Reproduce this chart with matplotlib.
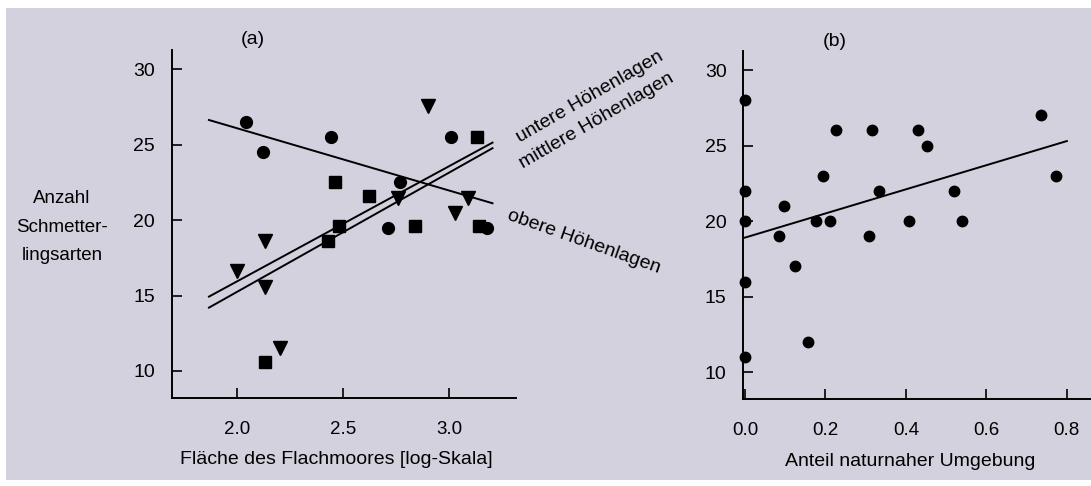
import matplotlib
matplotlib.use("Agg")
import matplotlib.pyplot as plt
from matplotlib.patches import Rectangle

plt.rcParams['font.family'] = ['Liberation Sans', 'DejaVu Sans']

# Panel (a): Flachmoor area (log) vs. butterfly species
# circles = obere, squares = mittlere, triangles = untere Hoehenlagen
circ_x = [2.04, 2.12, 2.44, 2.77, 2.71, 3.01, 3.18]
circ_y = [26.5, 24.5, 25.5, 22.5, 19.5, 25.5, 19.5]
sq_x = [2.46, 2.48, 2.43, 2.62, 2.84, 3.13, 3.14, 2.13]
sq_y = [22.5, 19.6, 18.6, 21.6, 19.6, 25.5, 19.6, 10.6]
tri_x = [2.90, 2.00, 2.13, 2.13, 2.20, 2.76, 3.03, 3.09]
tri_y = [27.6, 16.6, 18.6, 15.6, 11.5, 21.5, 20.5, 21.5]

# regression lines (end points)
fit_x = [1.866, 3.205]
fit_obere = [26.64, 21.12]
fit_untere = [14.93, 25.14]
fit_mittlere = [14.20, 24.77]

# Panel (b): share of near-natural surroundings
b_x = [0.0, 0.0, 0.0, 0.0, 0.0, 0.084, 0.096, 0.125, 0.156, 0.176, 0.193,
       0.212, 0.227, 0.308, 0.315, 0.332, 0.408, 0.431, 0.452, 0.52, 0.54,
       0.735, 0.772]
b_y = [28, 22, 20, 16, 11, 19, 21, 17, 12, 20, 23,
       20, 26, 19, 26, 22, 20, 26, 25, 22, 20,
       27, 23]
b_fit_x = [0.0, 0.80]
b_fit_y = [18.91, 25.3]

W, H = 1091, 486
fig = plt.figure(figsize=(W / 100, H / 100), dpi=100, facecolor='white')
bg = '#d2d1dd'
fig.patches.append(Rectangle((6 / W, 6 / H), (W - 6) / W, (479 - 7) / H,
                             transform=fig.transFigure, facecolor=bg,
                             edgecolor='none', zorder=-10))


def style(ax):
    ax.set_facecolor('none')
    for s in ['top', 'right']:
        ax.spines[s].set_visible(False)
    for s in ['left', 'bottom']:
        ax.spines[s].set_linewidth(1.4)
    ax.tick_params(axis='both', direction='in', length=7, width=1.2)
    ax.tick_params(axis='y', labelsize=14, pad=12)
    ax.tick_params(axis='x', labelsize=13.5, pad=16)


ax1 = fig.add_axes([171.7 / W, 87.7 / H, (516 - 171.7) / W, 348.3 / H])
style(ax1)
ax1.set_xlim(1.69, 3.316)
ax1.set_ylim(8.19, 31.28)
ax1.set_xticks([2.0, 2.5, 3.0])
ax1.set_yticks([10, 15, 20, 25, 30])
ax1.plot(fit_x, fit_obere, color='black', lw=1.4)
ax1.plot(fit_x, fit_untere, color='black', lw=1.4)
ax1.plot(fit_x, fit_mittlere, color='black', lw=1.4)
ax1.plot(circ_x, circ_y, 'o', color='black', ms=8.5, clip_on=False)
ax1.plot(sq_x, sq_y, 's', color='black', ms=8, clip_on=False)
ax1.plot(tri_x, tri_y, 'v', color='black', ms=9.5, clip_on=False)

ax2 = fig.add_axes([743.3 / W, 86.7 / H, (W - 743.3) / W, 348.6 / H])
style(ax2)
ax2.set_xlim(-0.004, 0.86)
ax2.set_ylim(8.21, 31.28)
ax2.set_xticks([0.0, 0.2, 0.4, 0.6, 0.8])
ax2.set_yticks([10, 15, 20, 25, 30])
ax2.plot(b_fit_x, b_fit_y, color='black', lw=1.4)
ax2.plot(b_x, b_y, 'o', color='black', ms=7.5, clip_on=False)


def ftext(x, y, s, **kw):
    fig.text(x / W, 1 - y / H, s, ha='center', va='center', **kw)


ftext(253, 40, '(a)', fontsize=14)
ftext(835, 41, '(b)', fontsize=14)
ftext(62, 227, 'Anzahl\nSchmetter-\nlingsarten', fontsize=13.5, linespacing=1.85)
ftext(336, 459, 'Fläche des Flachmoores [log-Skala]', fontsize=14)
ftext(910, 461, 'Anteil naturnaher Umgebung', fontsize=14)
ftext(590, 97, 'untere Höhenlagen', fontsize=14, rotation=30, rotation_mode='anchor')
ftext(597, 121, 'mittlere Höhenlagen', fontsize=14, rotation=30, rotation_mode='anchor')
ftext(584, 242, 'obere Höhenlagen', fontsize=14, rotation=-19.5, rotation_mode='anchor')

fig.savefig('out.png', dpi=100, facecolor='white')
